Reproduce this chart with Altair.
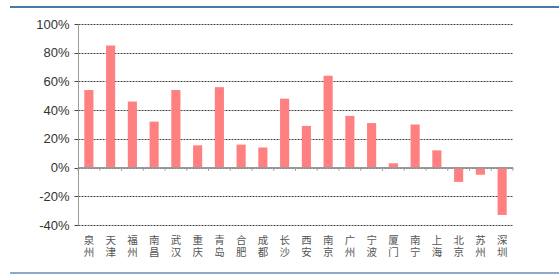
import altair as alt
import pandas as pd

cities = ["泉州", "天津", "福州", "南昌", "武汉", "重庆", "青岛", "合肥", "成都", "长沙",
          "西安", "南京", "广州", "宁波", "厦门", "南宁", "上海", "北京", "苏州", "深圳"]
values = [0.54, 0.85, 0.46, 0.32, 0.54, 0.155, 0.56, 0.16, 0.14, 0.48,
          0.29, 0.64, 0.36, 0.31, 0.03, 0.30, 0.12, -0.10, -0.05, -0.33]
y_ticks = [-0.4, -0.2, 0.0, 0.2, 0.4, 0.6, 0.8, 1.0]

df = pd.DataFrame({"city": cities, "value": values})

W, H = 435, 201

x_axis = alt.Axis(title=None, domain=False, ticks=False, labelAngle=0,
                  labelExpr="split(datum.label, '')",
                  labelFont="Noto Sans CJK SC", labelFontSize=10.5,
                  labelLineHeight=12, labelColor="#555",
                  labelPadding=10, labelBaseline="top")
x_scale = alt.Scale(paddingInner=0, paddingOuter=0)

y_axis = alt.Axis(title=None, values=y_ticks, format=".0%",
                  labelExpr="replace(datum.label, '\u2212', '-')",
                  labelOverlap=False,
                  labelFont="Liberation Sans", labelFontSize=13, labelColor="#333",
                  labelPadding=5,
                  domainColor="#999", domainWidth=1,
                  tickColor="#444", tickSize=4, tickWidth=1,
                  gridColor="#444", gridDash=[2, 1], gridWidth=1)
y_scale = alt.Scale(domain=[-0.4, 1.0], nice=False, zero=False)

bars = alt.Chart(df).mark_bar(width=alt.RelativeBandSize(0.42), color="#FF8080").encode(
    x=alt.X("city:N", sort=cities, scale=x_scale, axis=x_axis),
    y=alt.Y("value:Q", scale=y_scale, axis=y_axis),
)

zero_line = alt.Chart(df).mark_rule(color="#999", strokeWidth=1).encode(
    x=alt.value(0), x2=alt.value(W), y=alt.YDatum(0, scale=y_scale, axis=y_axis)
)

ticks = alt.Chart(df).mark_rule(color="#999", strokeWidth=1).encode(
    x=alt.X("city:N", sort=cities, bandPosition=0, scale=x_scale, axis=x_axis),
    y=alt.YDatum(0, scale=y_scale, axis=y_axis),
    y2=alt.datum(-0.022),
)
end_tick = alt.Chart(df.head(1)).mark_rule(color="#999", strokeWidth=1).encode(
    x=alt.value(W), y=alt.YDatum(0, scale=y_scale, axis=y_axis), y2=alt.datum(-0.022)
)

top_line = alt.Chart(df.head(1)).mark_rule(color="#4a78a8", strokeWidth=2).encode(
    x=alt.value(-68), x2=alt.value(481), y=alt.value(-17)
)
bottom_line = alt.Chart(df.head(1)).mark_rule(color="#90a8c8", strokeWidth=2).encode(
    x=alt.value(-68), x2=alt.value(481), y=alt.value(249)
)

chart = alt.layer(bars, zero_line, ticks, end_tick, top_line, bottom_line).properties(
    width=W, height=H,
    autosize=alt.AutoSizeParams(type="none"),
    padding={"left": 78, "top": 24, "right": 46, "bottom": 52},
    background="white",
).configure_view(stroke=None)

chart.save("out.html", embed_options={"renderer": "svg", "actions": False})
